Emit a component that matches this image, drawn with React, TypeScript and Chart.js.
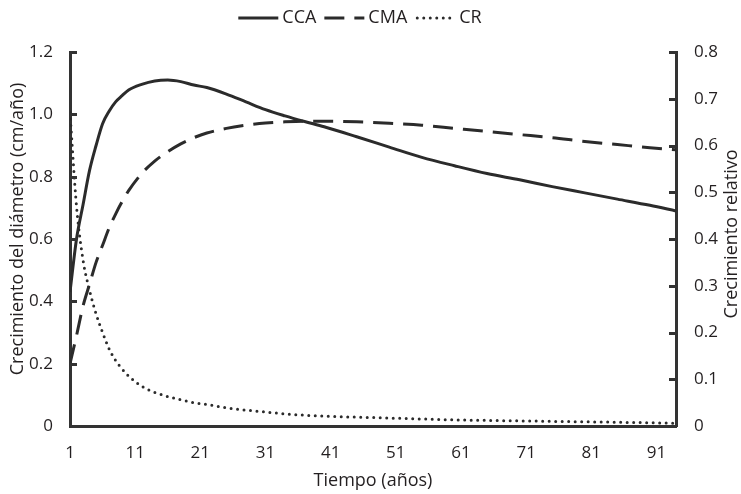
import React, { useEffect, useRef } from 'react';
import { Chart, registerables } from 'chart.js';

Chart.register(...registerables);

// ---- data ----
const years = [1, 2, 3, 4, 5, 6, 7, 8, 9, 10, 12, 14, 16, 18, 20, 22, 25, 28, 31, 34, 37, 40, 45, 50, 55, 60, 65, 70, 75, 80, 85, 90, 94];

const ccaValues = [0.43, 0.6, 0.71, 0.82, 0.9, 0.97, 1.01, 1.04, 1.06, 1.078, 1.096, 1.107, 1.11, 1.105, 1.094, 1.086, 1.065, 1.04, 1.015, 0.995, 0.977, 0.96, 0.928, 0.895, 0.862, 0.835, 0.81, 0.79, 0.768, 0.748, 0.728, 0.708, 0.69];

const cmaValues = [0.2, 0.29, 0.385, 0.455, 0.525, 0.58, 0.635, 0.68, 0.72, 0.755, 0.81, 0.85, 0.88, 0.905, 0.925, 0.94, 0.955, 0.965, 0.972, 0.976, 0.978, 0.978, 0.976, 0.971, 0.965, 0.955, 0.945, 0.935, 0.925, 0.913, 0.903, 0.893, 0.886];

const crValues = [0.67, 0.47, 0.355, 0.29, 0.24, 0.2, 0.165, 0.14, 0.122, 0.107, 0.085, 0.072, 0.063, 0.056, 0.05, 0.046, 0.039, 0.034, 0.03, 0.026, 0.023, 0.021, 0.019, 0.017, 0.015, 0.013, 0.012, 0.011, 0.01, 0.009, 0.008, 0.007, 0.006];

const seriesNames = ['CCA', 'CMA', 'CR'];
const xTickValues = [1, 11, 21, 31, 41, 51, 61, 71, 81, 91];
const leftTickValues = [0, 0.2, 0.4, 0.6, 0.8, 1.0, 1.2];
const rightTickValues = [0, 0.1, 0.2, 0.3, 0.4, 0.5, 0.6, 0.7, 0.8];
const xTitle = 'Tiempo (años)';
const leftTitle = 'Crecimiento del diámetro (cm/año)';
const rightTitle = 'Crecimiento relativo';

// ---- styles ----
const FONT = "'Open Sans', 'Noto Sans', sans-serif";
const FONT_SIZE = 17;
const TEXT = '#231f20';
const LINE = '#2b2b2b';
const AXIS = '#333333';
const DASHES = [[], [20, 10], [0, 6.5]];

const fmt = (v: number) => (v === 0 ? '0' : Number(v).toFixed(1));

const decorPlugin = {
  id: 'decor',
  afterDraw(chart: any) {
    const ctx = chart.ctx as CanvasRenderingContext2D;
    const { left, right } = chart.chartArea;
    ctx.save();
    // inward tick marks on both value axes
    ctx.strokeStyle = AXIS;
    ctx.lineWidth = 3;
    ctx.setLineDash([]);
    ctx.lineCap = 'butt';
    const yL = chart.scales.y;
    const yR = chart.scales.y1;
    leftTickValues.forEach((v) => {
      const py = Math.round(yL.getPixelForValue(v)) + 0.5;
      ctx.beginPath();
      ctx.moveTo(left, py);
      ctx.lineTo(left + 7, py);
      ctx.stroke();
    });
    rightTickValues.forEach((v) => {
      const py = Math.round(yR.getPixelForValue(v)) + 0.5;
      ctx.beginPath();
      ctx.moveTo(right, py);
      ctx.lineTo(right - 7, py);
      ctx.stroke();
    });

    // axis titles
    ctx.fillStyle = TEXT;
    ctx.font = `${FONT_SIZE + 1}px ${FONT}`;
    ctx.textAlign = 'center';
    ctx.textBaseline = 'middle';
    ctx.fillText(xTitle, 373, 481);
    ctx.save();
    ctx.translate(18, 229);
    ctx.rotate(-Math.PI / 2);
    ctx.fillText(leftTitle, 0, 0);
    ctx.restore();
    ctx.save();
    ctx.translate(732, 234);
    ctx.rotate(-Math.PI / 2);
    ctx.fillText(rightTitle, 0, 0);
    ctx.restore();

    // legend
    ctx.font = `${FONT_SIZE + 1}px ${FONT}`;
    ctx.textAlign = 'left';
    const sampleW = 40;
    const gapSample = 4;
    const gapItem = 8;
    const widths = seriesNames.map((n) => sampleW + gapSample + ctx.measureText(n).width);
    const total = widths.reduce((a, b) => a + b, 0) + gapItem * (seriesNames.length - 1);
    let x = 360 - total / 2;
    const ly = 18;
    seriesNames.forEach((n, i) => {
      ctx.strokeStyle = LINE;
      ctx.lineWidth = 3;
      ctx.setLineDash(DASHES[i]);
      ctx.lineCap = i === 2 ? 'round' : 'butt';
      ctx.beginPath();
      ctx.moveTo(x + (i === 2 ? 2 : 0), ly);
      ctx.lineTo(x + sampleW, ly);
      ctx.stroke();
      ctx.setLineDash([]);
      ctx.fillStyle = TEXT;
      ctx.fillText(n, x + sampleW + gapSample, ly);
      x += widths[i] + gapItem;
    });
    ctx.restore();
  },
};

export default function App() {
  const canvasRef = useRef<HTMLCanvasElement | null>(null);

  useEffect(() => {
    const canvas = canvasRef.current;
    if (!canvas) return;
    const pts = (vals: number[]) => years.map((yr, i) => ({ x: yr, y: vals[i] }));
    const common = {
      borderColor: LINE,
      backgroundColor: LINE,
      borderWidth: 3,
      pointRadius: 0,
      pointHoverRadius: 0,
      fill: false,
      cubicInterpolationMode: 'monotone' as const,
    };
    const chart = new Chart(canvas, {
      type: 'line',
      data: {
        datasets: [
          { ...common, label: seriesNames[0], data: pts(ccaValues), yAxisID: 'y', borderDash: DASHES[0] },
          { ...common, label: seriesNames[1], data: pts(cmaValues), yAxisID: 'y', borderDash: DASHES[1] },
          {
            ...common,
            label: seriesNames[2],
            data: pts(crValues),
            yAxisID: 'y1',
            borderDash: DASHES[2],
            borderCapStyle: 'round',
          },
        ],
      },
      options: {
        responsive: false,
        animation: false,
        devicePixelRatio: 1,
        events: [],
        layout: { padding: { top: 52, left: 0, right: 0, bottom: 0 } },
        plugins: {
          legend: { display: false },
          tooltip: { enabled: false },
          title: { display: false },
        },
        scales: {
          x: {
            type: 'linear',
            min: 1,
            max: 94,
            grid: { display: false },
            border: { display: true, color: AXIS, width: 3 },
            afterBuildTicks: (axis: any) => {
              axis.ticks = xTickValues.map((v) => ({ value: v }));
            },
            afterFit: (s: any) => {
              s.height = 68;
            },
            ticks: {
              autoSkip: false,
              maxRotation: 0,
              padding: 9,
              color: TEXT,
              font: { family: FONT, size: FONT_SIZE },
              callback: (v: any) => String(v),
            },
          },
          y: {
            type: 'linear',
            position: 'left',
            min: 0,
            max: 1.2,
            grid: { display: false },
            border: { display: true, color: AXIS, width: 3 },
            afterBuildTicks: (axis: any) => {
              axis.ticks = leftTickValues.map((v) => ({ value: v }));
            },
            afterFit: (s: any) => {
              s.width = 70;
            },
            ticks: {
              padding: 9,
              color: TEXT,
              font: { family: FONT, size: FONT_SIZE },
              callback: (v: any) => fmt(v),
            },
          },
          y1: {
            type: 'linear',
            position: 'right',
            min: 0,
            max: 0.8,
            grid: { display: false },
            border: { display: true, color: AXIS, width: 3 },
            afterBuildTicks: (axis: any) => {
              axis.ticks = rightTickValues.map((v) => ({ value: v }));
            },
            afterFit: (s: any) => {
              s.width = 65;
            },
            ticks: {
              padding: 10,
              color: TEXT,
              font: { family: FONT, size: FONT_SIZE },
              callback: (v: any) => fmt(v),
            },
          },
        },
      },
      plugins: [decorPlugin],
    });
    return () => chart.destroy();
  }, []);

  return (
    <div style={{ position: 'absolute', left: 0, top: 0, width: 741, height: 494, background: '#fff' }}>
      <canvas ref={canvasRef} width={741} height={494} style={{ display: 'block' }} />
    </div>
  );
}
